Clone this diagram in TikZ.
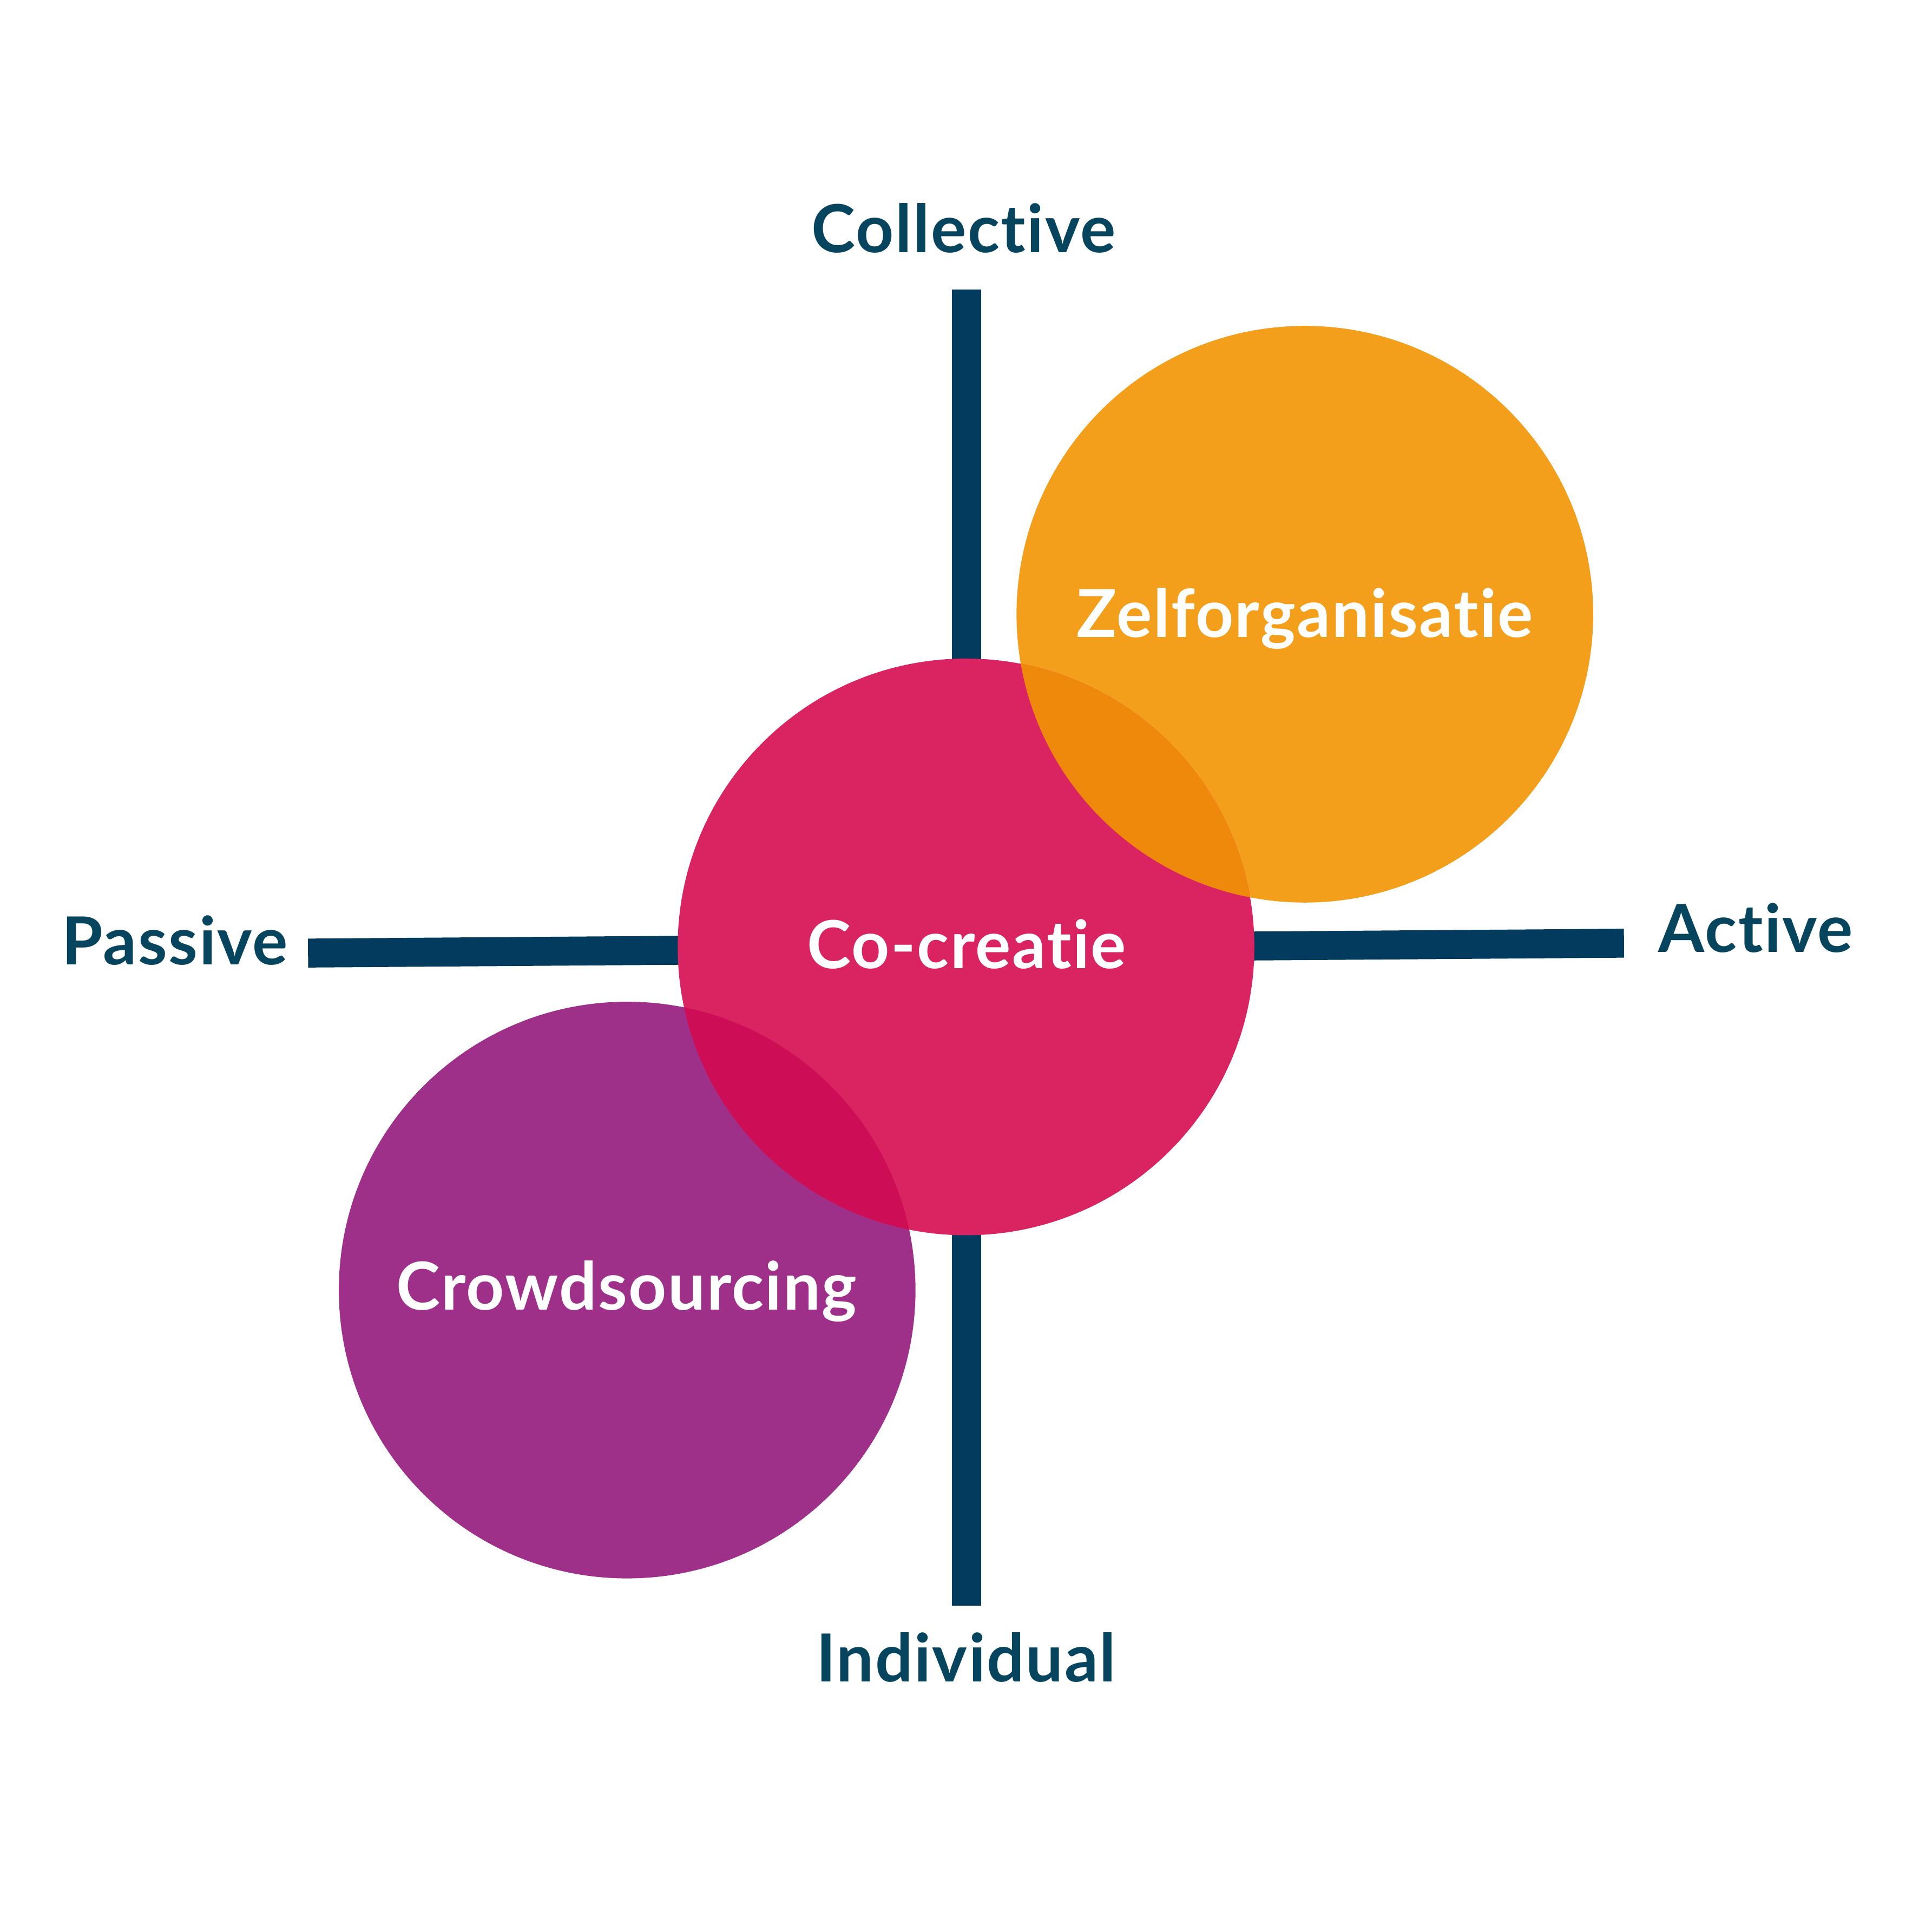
\documentclass[tikz,border=0pt]{standalone}
\usepackage{fontspec}
\setmainfont{Lato}[Ligatures={NoCommon}, LetterSpace=2]
\usetikzlibrary{positioning}
\definecolor{axisnavy}  {RGB}{3,   59,  94}
\definecolor{labelnavy} {RGB}{7,   69,  95}
\definecolor{cocpink}   {RGB}{218, 35,  97}
\definecolor{zelforange}{RGB}{243, 159, 27}
\definecolor{crowdpurp} {RGB}{158, 48,  138}
\definecolor{lensorange}{RGB}{239, 137, 11}
\definecolor{lenspink}  {RGB}{205, 13,  85}

\begin{document}
\begin{tikzpicture}[
  x=1cm, y=-1cm,
  axisbar/.style={axisnavy, line width=0.235cm},
  blob/.style={circle, minimum size=4.68cm, inner sep=0pt},
  blobtext/.style={white, anchor=base, inner sep=0pt,
    font=\fontsize{15.3}{18}\selectfont\bfseries},
  axislabel/.style={labelnavy, anchor=base, inner sep=0pt,
    font=\fontsize{15.3}{18}\selectfont\bfseries},
]
\useasboundingbox (0,0) rectangle (15.68,15.68);

% ── Assen ────────────────────────────────────────────────────
\coordinate (ntop)    at (7.845, 2.35);
\coordinate (nbottom) at (7.845, 13.03);
\coordinate (nleft)   at (2.50,  7.735);
\coordinate (nright)  at (13.18, 7.655);
\draw[axisbar] (ntop) -- (nbottom);
\draw[axisbar] (nleft) -- (nright);

% ── As-labels ────────────────────────────────────────────────
\node[axislabel] (collective) at (7.82, 2.05)  {Collective};
\node[axislabel] (individual) at (7.84, 13.65) {Individual};
\node[axislabel] (passive)    at (1.42, 7.83)  {Passive};
\node[axislabel] (active)     at (14.25, 7.73) {Active};

% ════════════════════════════════════════════════════════════
%  Cirkels
% ════════════════════════════════════════════════════════════
\node[blob, fill=zelforange] (zelforg)   at (10.59, 4.985) {};
\node[blob, fill=crowdpurp]  (crowd)     at (5.09, 10.47)  {};
\node[blob, fill=cocpink]    (cocreatie) at (7.84, 7.685)  {};

% ── Overlappingen ───────────────────────────────────────────
\begin{scope}
  \clip (cocreatie.center) circle[radius=2.34];
  \fill[lensorange] (zelforg.center) circle[radius=2.34];
  \fill[lenspink]   (crowd.center)   circle[radius=2.34];
\end{scope}

% ── Teksten in de cirkels ───────────────────────────────────
\node[blobtext] (zelftext)  at (10.59, 5.17)  {Zelforganisatie};
\node[blobtext] (coctext)   at (7.845, 7.86)  {Co-creatie};
\node[blobtext] (crowdtext) at (5.085, 10.63) {Crowdsourcing};

\end{tikzpicture}
\end{document}
